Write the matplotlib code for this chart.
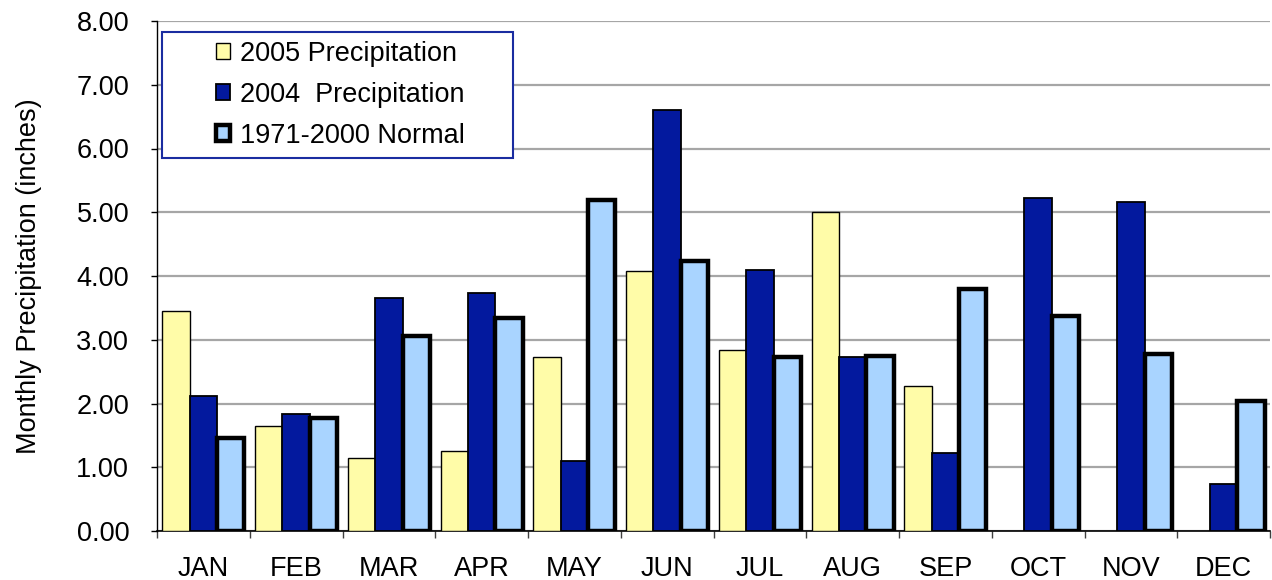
import numpy as np
import matplotlib
matplotlib.use("Agg")
import matplotlib.pyplot as plt
from matplotlib.patches import Rectangle

plt.rcParams["font.family"] = ["Liberation Sans", "DejaVu Sans"]

months = ["JAN", "FEB", "MAR", "APR", "MAY", "JUN",
          "JUL", "AUG", "SEP", "OCT", "NOV", "DEC"]
precip_2005 = [3.45, 1.64, 1.14, 1.26, 2.73, 4.08,
               2.84, 5.01, 2.28, np.nan, np.nan, np.nan]
precip_2004 = [2.11, 1.84, 3.66, 3.74, 1.10, 6.61,
               4.09, 2.73, 1.23, 5.23, 5.16, 0.74]
normal_7100 = [1.46, 1.77, 3.06, 3.34, 5.20, 4.23,
               2.73, 2.75, 3.80, 3.38, 2.78, 2.04]
y_ticks = [0, 1, 2, 3, 4, 5, 6, 7, 8]

C_2005 = "#FFFCA8"
C_2004 = "#03199E"
C_NORM = "#A9D4FF"

fig = plt.figure(figsize=(12.72, 5.8), dpi=100)
ax = fig.add_axes([157 / 1272, 49 / 580, 1113 / 1272, 510 / 580])

x = np.arange(len(months))
w = 0.295
ax.bar(x - w, precip_2005, w, color=C_2005, edgecolor="black", linewidth=1.0,
       label="2005 Precipitation", zorder=3)
ax.bar(x, precip_2004, w, color=C_2004, edgecolor="black", linewidth=1.3,
       label="2004  Precipitation", zorder=3)
ax.bar(x + w, normal_7100, w, color=C_NORM, edgecolor="black", linewidth=3.2,
       label="1971-2000 Normal", zorder=3)

ax.set_xlim(-0.5, len(months) - 0.5)
ax.set_ylim(0, 8)
ax.set_yticks(y_ticks)
ax.set_yticklabels([f"{v:.2f}" for v in y_ticks], fontsize=19.5)
ax.set_xticks(x)
ax.set_xticklabels(months, fontsize=19.5)
ax.set_xticks(np.arange(-0.5, len(months), 1.0), minor=True)
ax.tick_params(axis="x", which="major", length=0, pad=18)
ax.tick_params(axis="x", which="minor", length=5, width=1, color="#404040")
ax.tick_params(axis="y", length=4, width=1, pad=16)

ax.grid(axis="y", color="#a6a6a6", linewidth=1.6, zorder=0)
ax.set_axisbelow(True)
for s in ["top", "right"]:
    ax.spines[s].set_visible(False)
ax.spines["left"].set_linewidth(1.0)
ax.spines["bottom"].set_linewidth(1.2)

ax.set_ylabel("Monthly Precipitation (inches)", fontsize=19.5)
ax.yaxis.set_label_coords(-0.103, 0.5)

# legend box drawn separately so the padding can match
ax.add_patch(Rectangle((0.0045, 0.731), 0.315, 0.247, transform=ax.transAxes,
                       facecolor="white", edgecolor="#1a2ca0", linewidth=1.5,
                       zorder=4))
leg = ax.legend(loc="upper left", bbox_to_anchor=(0.053, 0.961), frameon=False,
                fontsize=19.5, handlelength=0.52, handleheight=0.52,
                handletextpad=0.38, labelspacing=0.55, borderpad=0,
                borderaxespad=0)
leg.set_zorder(5)

fig.savefig("out.png", dpi=100, facecolor="white")
